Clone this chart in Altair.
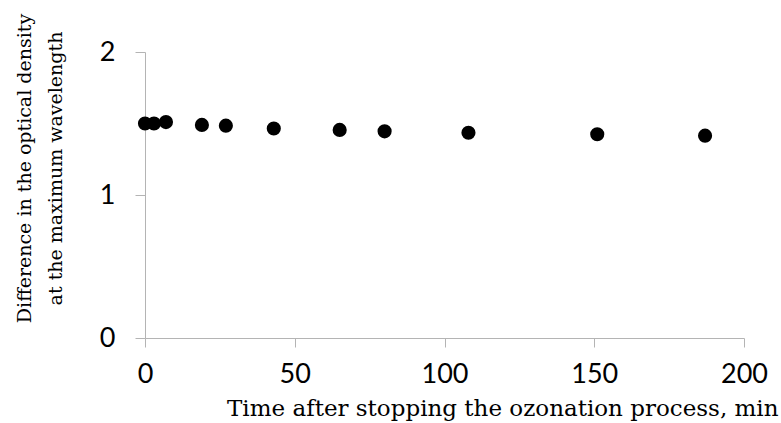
import altair as alt
import pandas as pd

# Time after the ozonation was stopped (min) and the measured optical density difference
time_min = [0, 3, 7, 19, 27, 43, 65, 80, 108, 151, 187]
od_diff = [1.50, 1.50, 1.51, 1.49, 1.485, 1.465, 1.455, 1.445, 1.435, 1.425, 1.415]

# Tick positions of both axes
x_ticks = [0, 50, 100, 150, 200]
y_ticks = [0, 1, 2]

df = pd.DataFrame({"t": time_min, "od": od_diff})

axis_gray = "#b4b4b4"

chart = (
    alt.Chart(df)
    .mark_circle(size=200, color="black", opacity=1)
    .encode(
        x=alt.X(
            "t:Q",
            scale=alt.Scale(domain=[0, 200], nice=False, zero=True),
            axis=alt.Axis(
                values=x_ticks,
                labelExpr="datum.value",
                labelOverlap=False,
                labelFlush=False,
                title="Time after stopping the ozonation process, min",
                titleFont="DejaVu Serif",
                titleFontSize=23,
                titleFontWeight="normal",
                titleColor="black",
                titleAlign="right",
                titleAnchor="start",
                titleX=633,
                titleY=77,
                titleBaseline="alphabetic",
                labelFont="Lato",
                labelFontSize=27,
                labelColor="black",
                labelPadding=14,
                tickSize=9,
                tickColor=axis_gray,
                domainColor=axis_gray,
                grid=False,
            ),
        ),
        y=alt.Y(
            "od:Q",
            scale=alt.Scale(domain=[0, 2], nice=False),
            axis=alt.Axis(
                values=y_ticks,
                labelExpr="datum.value",
                labelOverlap=False,
                labelFlush=False,
                title=["Difference in the optical density", "at the maximum wavelength"],
                titleFont="DejaVu Serif",
                titleFontSize=19,
                titleFontWeight="normal",
                titleColor="black",
                titleAngle=-90,
                titleAlign="center",
                titleAnchor="start",
                titleBaseline="top",
                titleX=-130,
                titleY=116,
                titleLineHeight=31,
                labelFont="Lato",
                labelFontSize=27,
                labelColor="black",
                labelPadding=20,
                tickSize=10,
                tickColor=axis_gray,
                domainColor=axis_gray,
                grid=False,
            ),
        ),
    )
    .properties(
        width=599,
        height=286,
        autosize=alt.AutoSizeParams(type="none"),
        padding={"left": 145, "top": 52, "right": 37, "bottom": 85},
        background="white",
    )
    .configure_view(stroke=None)
)

chart.save("out.html", embed_options={"renderer": "svg", "actions": False})
